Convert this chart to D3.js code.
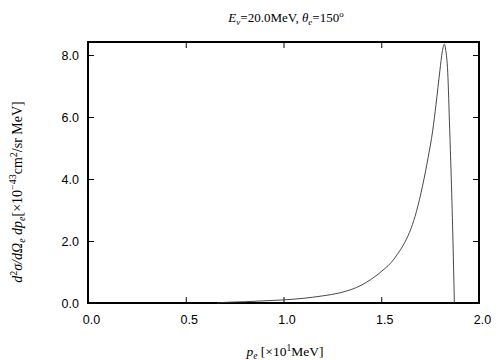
<!DOCTYPE html>
<html><head><meta charset="utf-8">
<script src="https://cdn.jsdelivr.net/npm/d3@7"></script>
<style>body{margin:0;background:#fff}svg{display:block}</style>
</head><body>
<script>
const momentum = [0.66,0.70,0.80,0.90,1.00,1.10,1.20,1.29,1.40,1.49,1.52,1.55,1.58,1.62,1.652,1.68,1.712,1.74,1.763,1.78,1.80,1.812,1.8225,1.83,1.84,1.85,1.857,1.866,1.874];
const crossSection = [0.0,0.02,0.04,0.07,0.10,0.15,0.23,0.33,0.58,0.96,1.12,1.3,1.55,1.95,2.4,2.95,3.8,4.7,5.55,6.4,7.5,8.1,8.35,8.15,7.45,5.6,4.26,2.2,0.0];
const xTicks = [0.0,0.5,1.0,1.5,2.0];
const yTicks = [0.0,2.0,4.0,6.0,8.0];

const W=504,H=360;
const L=88,R=479,T=42,B=303;
const svg=d3.select("body").append("svg").attr("width",W).attr("height",H);
const x=d3.scaleLinear().domain([0,2]).range([L,R]);
const y=d3.scaleLinear().domain([0,8.42]).range([B,T]);

const tl=6;
const fmt=d3.format(".1f");
const sans="'Liberation Sans', Arial, sans-serif";
const serif="'Liberation Serif', 'Times New Roman', serif";

const gb=svg.append("g").attr("transform",`translate(0,${B})`)
 .call(d3.axisBottom(x).tickValues(xTicks).tickFormat(fmt).tickSizeInner(-tl).tickSizeOuter(0).tickPadding(12));
gb.selectAll("text").attr("dx",3);
const gt=svg.append("g").attr("transform",`translate(0,${T})`)
 .call(d3.axisTop(x).tickValues(xTicks).tickFormat("").tickSizeInner(-tl).tickSizeOuter(0));
const gl=svg.append("g").attr("transform",`translate(${L},0)`)
 .call(d3.axisLeft(y).tickValues(yTicks).tickFormat(fmt).tickSizeInner(-tl).tickSizeOuter(0).tickPadding(9));
const gr=svg.append("g").attr("transform",`translate(${R},0)`)
 .call(d3.axisRight(y).tickValues(yTicks).tickFormat("").tickSizeInner(-tl).tickSizeOuter(0));
[gb,gt,gl,gr].forEach(g=>{
  g.select(".domain").remove();
  g.selectAll("line").attr("stroke","#000").attr("stroke-width",1);
  g.selectAll("text").attr("font-family",sans).attr("font-size",12.5).attr("fill","#000");
});

svg.append("rect").attr("x",L).attr("y",T).attr("width",R-L).attr("height",B-T)
 .attr("fill","none").attr("stroke","#000").attr("stroke-width",2);

const pts=momentum.map((p,i)=>[p,crossSection[i]]);
svg.append("path").datum(pts)
 .attr("d",d3.line().curve(d3.curveMonotoneX).x(d=>x(d[0])).y(d=>y(d[1])))
 .attr("fill","none").attr("stroke","#333").attr("stroke-width",0.9);

const t=svg.append("text").attr("x",286).attr("y",22).attr("text-anchor","middle")
 .attr("font-family",serif).attr("font-size",13);
t.append("tspan").attr("font-style","italic").text("E");
t.append("tspan").attr("font-style","italic").attr("font-size",9).attr("dy",3).text("ν");
t.append("tspan").attr("dy",-3).text("=20.0MeV,  ");
t.append("tspan").attr("font-style","italic").text("θ");
t.append("tspan").attr("font-style","italic").attr("font-size",9).attr("dy",3).text("e");
t.append("tspan").attr("dy",-3).text("=150");
t.append("tspan").attr("font-size",9).attr("dy",-5).text("o");

const xl=svg.append("text").attr("x",285).attr("y",356).attr("text-anchor","middle")
 .attr("font-family",serif).attr("font-size",13.5);
xl.append("tspan").attr("font-style","italic").text("p");
xl.append("tspan").attr("font-style","italic").attr("font-size",9.5).attr("dy",3).text("e");
xl.append("tspan").attr("dy",-3).text(" [×10");
xl.append("tspan").attr("font-size",9.5).attr("dy",-5).text("1");
xl.append("tspan").attr("dy",5).text("MeV]");

const yl=svg.append("text").attr("transform","translate(22,192) rotate(-90)").attr("text-anchor","middle")
 .attr("font-family",serif).attr("font-size",14);
yl.append("tspan").attr("font-style","italic").text("d");
yl.append("tspan").attr("font-size",10).attr("dy",-5).text("2");
yl.append("tspan").attr("font-style","italic").attr("dy",5).text("σ/dΩ");
yl.append("tspan").attr("font-style","italic").attr("font-size",10).attr("dy",3).text("e");
yl.append("tspan").attr("font-style","italic").attr("dy",-3).text(" dp");
yl.append("tspan").attr("font-style","italic").attr("font-size",10).attr("dy",3).text("e");
yl.append("tspan").attr("dy",-3).text("[×10");
yl.append("tspan").attr("font-size",10).attr("dy",-6).text("−43");
yl.append("tspan").attr("dy",6).text("cm");
yl.append("tspan").attr("font-size",10).attr("dy",-5).text("2");
yl.append("tspan").attr("dy",5).text("/sr MeV]");
</script>
</body></html>
